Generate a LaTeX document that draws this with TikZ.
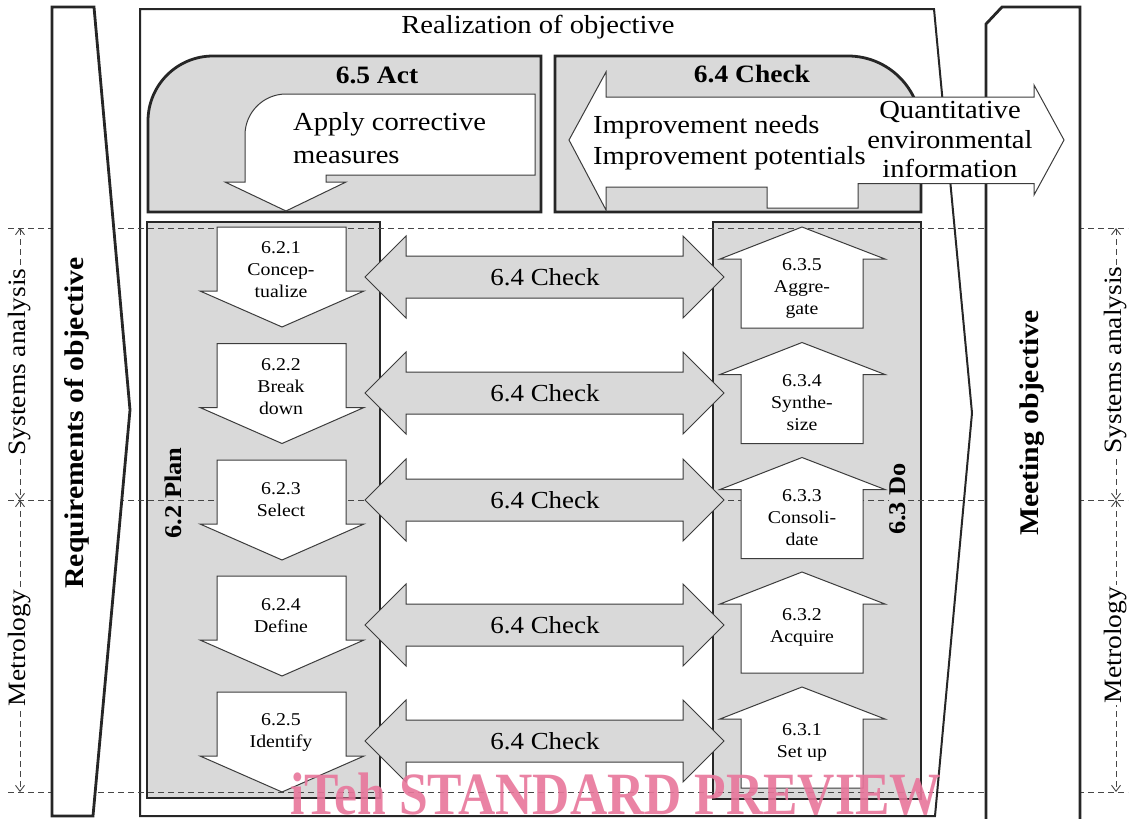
\documentclass[tikz,border=0pt]{standalone}
\usepackage{fontspec}
\setmainfont{Liberation Serif}[FakeStretch=1.1]
\newfontfamily\wmfont{Liberation Serif}
\usetikzlibrary{arrows.meta}
\definecolor{boxgrey}{RGB}{217,217,217}
\definecolor{edgec}{RGB}{38,38,38}
\definecolor{arrowedge}{RGB}{60,60,60}
\definecolor{dashc}{RGB}{70,70,70}
\definecolor{wmpink}{RGB}{232,118,155}
\begin{document}
\begin{tikzpicture}[x=1pt,y=-1pt,
  thickbox/.style={draw=edgec, line width=2.8pt, fill=boxgrey},
  framebox/.style={draw=edgec, line width=2pt, fill=white},
  stripbox/.style={draw=edgec, line width=2.8pt, fill=white},
  whitearrow/.style={draw=arrowedge, line width=1pt, fill=white},
  greyarrow/.style={draw=arrowedge, line width=1pt, fill=boxgrey},
  guide/.style={dashc, line width=0.9pt, dash pattern=on 6pt off 4pt},
  sidearrow/.style={guide, {Straight Barb[length=6pt,width=9pt]}-{Straight Barb[length=6pt,width=9pt]}},
  bigtxt/.style={font=\fontsize{26}{30}\selectfont, inner sep=0pt},
  boldtitle/.style={font=\bfseries\fontsize{25}{30}\selectfont, inner sep=0pt},
  smalltxt/.style={font=\fontsize{18}{22}\selectfont, align=center, inner sep=0pt},
  sidelabel/.style={font=\fontsize{25}{30}\selectfont, rotate=90, fill=white, inner sep=1.5pt},
  vertbold/.style={font=\bfseries\fontsize{27}{30}\selectfont, rotate=90, inner sep=0pt}
]
\useasboundingbox (0,0) rectangle (1130,819);
% main frame
\draw[framebox] (140,9) -- (934,9) -- (972,413) -- (935,816) -- (140,816) -- cycle;
\node[bigtxt] (realiz) at (538,27) {Realization of objective};
% grey boxes
\draw[thickbox] (148,212) -- (148,121) .. controls (148,85.1) and (177.1,56) .. (213,56) -- (541,56) -- (541,212) -- cycle;
\draw[thickbox] (555,212) -- (555,56) -- (848,56) .. controls (888.3,56) and (921,88.7) .. (921,129) -- (921,212) -- cycle;
\draw[thickbox] (147,222) rectangle (380,798);
\draw[thickbox] (713,222) rectangle (921,799);
% guide lines
\foreach \yy in {228,500,792} \draw[guide] (8,\yy) -- (1128,\yy);
% side strips
\draw[stripbox] (52,7) -- (94,7) -- (130,410) -- (93,816) -- (52,816) -- cycle;
\draw[stripbox] (986,830) -- (986,24) -- (1002,7) -- (1080,7) -- (1080,830) -- cycle;
\node[vertbold] (req) at (77,423) {Requirements of objective};
\node[vertbold] (meet) at (1032,423) {Meeting objective};
% act arrow
\draw[whitearrow] (286,211) -- (346,182) -- (326,182) -- (326,175) -- (535,175) -- (535,94) -- (286,94) .. controls (263.4,94) and (245,112.4) .. (245,135) -- (245,182) -- (225,182) -- cycle;
% check shape
\draw[whitearrow] (569,140) -- (606,72) -- (606,97) -- (1034,97) -- (1034,85) -- (1064,140) -- (1034,195) -- (1034,183.5) -- (858,183.5) -- (858,208) -- (767,208) -- (767,187) -- (606,187) -- (606,210) -- cycle;
\node[boldtitle] (act) at (377,75) {6.5 Act};
\node[bigtxt, font=\fontsize{26}{33}\selectfont, align=left, anchor=west] (apply) at (293,138) {Apply corrective\\measures};
\node[boldtitle] (checktitle) at (752,74) {6.4 Check};
\node[bigtxt, font=\fontsize{26}{31}\selectfont, align=left, anchor=west] (impr) at (593,142.5) {Improvement needs\\Improvement potentials};
\node[bigtxt, font=\fontsize{26}{29.5}\selectfont, align=center] (quant) at (950,140) {Quantitative\\environmental\\information};
% plan arrows
\foreach \t/\nm/\txt/\dy in {227/pa/{6.2.1\\Concep-\\tualize}/43, 343.5/pb/{6.2.2\\Break\\down}/43, 460/pc/{6.2.3\\Select}/40, 576/pd/{6.2.4\\Define}/40, 692/pe/{6.2.5\\Identify}/40}{
  \draw[whitearrow] (217,\t) -- (346,\t) -- (346,\t+64) -- (364,\t+64) -- (282,\t+100) -- (200,\t+64) -- (217,\t+64) -- cycle;
  \node[smalltxt] (\nm) at (281,\t+\dy) {\txt};
}
% do arrows
\foreach \p/\nm/\txt/\dy in {227/da/{6.3.5\\Aggre-\\gate}/61, 342.5/db/{6.3.4\\Synthe-\\size}/60, 457.5/dc/{6.3.3\\Consoli-\\date}/60, 572/dd/{6.3.2\\Acquire}/55, 687/de/{6.3.1\\Set up}/55}{
  \draw[whitearrow] (802,\p) -- (885,\p+32) -- (863,\p+32) -- (863,\p+101) -- (741,\p+101) -- (741,\p+32) -- (720,\p+32) -- cycle;
  \node[smalltxt] (\nm) at (802,\p+\dy) {\txt};
}
% check arrows
\foreach \c/\nm in {277/ca,393/cb,500/cc,625/cd,741/ce}{
  \draw[greyarrow] (365,\c) -- (406,\c-41) -- (406,\c-21) -- (683,\c-21) -- (683,\c-41) -- (724,\c) -- (683,\c+41) -- (683,\c+21) -- (406,\c+21) -- (406,\c+41) -- cycle;
  \node[bigtxt, font=\fontsize{24.5}{28}\selectfont] (\nm) at (545,\c) {6.4 Check};
}
\node[vertbold, font=\bfseries\fontsize{24}{28}\selectfont] (plan) at (173,493) {6.2 Plan};
\node[vertbold, font=\bfseries\fontsize{24}{28}\selectfont, fill=boxgrey, inner sep=1pt] (do) at (898,499) {6.3 Do};
% side dimension arrows
\coordinate (la) at (20,228); \coordinate (lb) at (20,500); \coordinate (lc) at (20,792);
\coordinate (ra) at (1116,228); \coordinate (rb) at (1116,500); \coordinate (rc) at (1116,792);
\draw[sidearrow] (la) -- (lb);
\draw[sidearrow] (lb) -- (lc);
\draw[sidearrow] (ra) -- (rb);
\draw[sidearrow] (rb) -- (rc);
\node[sidelabel] (lsys) at (20,362) {Systems analysis};
\node[sidelabel] (lmet) at (20,648) {Metrology};
\node[sidelabel] (rsys) at (1116,360) {Systems analysis};
\node[sidelabel] (rmet) at (1116,645) {Metrology};
% watermark
\node[font=\wmfont\bfseries\fontsize{60}{60}\selectfont, text=wmpink, opacity=0.9, xscale=0.86, anchor=base, inner sep=0pt] (wm) at (616,814) {iTeh STANDARD PREVIEW};
\end{tikzpicture}
\end{document}
